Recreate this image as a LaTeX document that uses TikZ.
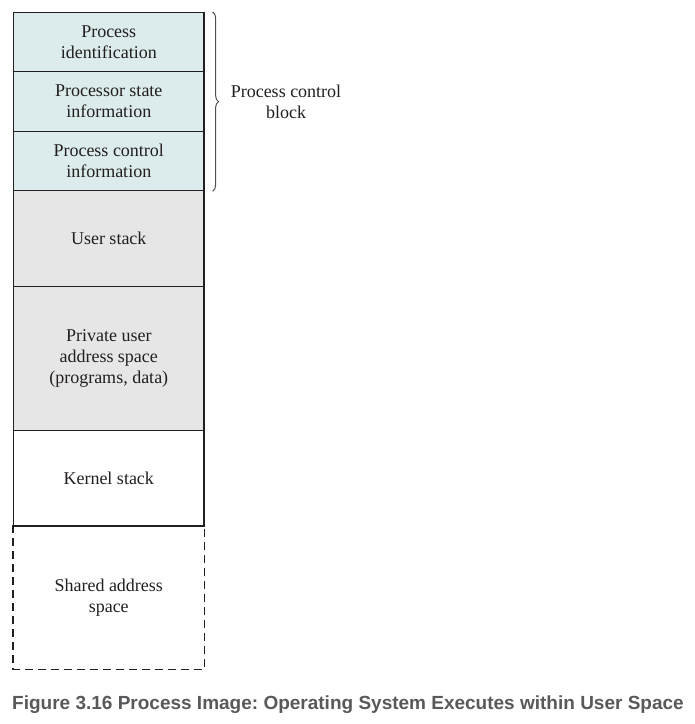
\documentclass[tikz,border=0pt]{standalone}
\usepackage{fontspec}
\setmainfont{Liberation Serif}
\newfontfamily\capfont{Liberation Sans}
\usetikzlibrary{decorations.pathreplacing}
\definecolor{pcbfill}{HTML}{DCEBEB}
\definecolor{userfill}{HTML}{E6E6E6}
\definecolor{inkc}{HTML}{231F20}
\definecolor{capc}{HTML}{58595B}
\frenchspacing
\tikzset{
  seg/.style={draw=inkc, line width=1.2pt, minimum width=190.5pt, anchor=north,
    align=center, inner sep=0pt, font=\fontsize{18}{21}\selectfont, text=inkc},
}
\begin{document}
\begin{tikzpicture}[x=1pt,y=-1pt]
\useasboundingbox (0,0) rectangle (695,724);
\node[seg, fill=pcbfill, minimum height=59pt] (pid) at (108.75,12) {Process\\identification};
\node[seg, fill=pcbfill, minimum height=60pt] (pst) at (108.75,71) {Processor state\\information};
\node[seg, fill=pcbfill, minimum height=59pt] (pci) at (108.75,131) {Process control\\information};
\node[seg, fill=userfill, minimum height=96pt] (ust) at (108.75,190) {User stack};
\node[seg, fill=userfill, minimum height=144pt] (pua) at (108.75,286) {Private user\\address space\\(programs, data)};
\node[seg, fill=white, minimum height=95pt] (kst) at (108.75,430) {Kernel stack};
\node[seg, draw=none, minimum height=143pt] (sas) at (108.75,525) {};
\node[font=\fontsize{18}{21}\selectfont, text=inkc, align=center] (sast) at (108.75,598) {Shared address\\space};
\draw[inkc, line width=1.2pt, dash pattern=on 8pt off 5pt] (sas.north west) -- (sas.south west) -- (sas.south east) -- (sas.north east);
\draw[inkc, line width=1.2pt] (kst.south west) -- (kst.south east);
\draw[inkc!80, line width=1pt, decorate, decoration={brace, amplitude=6pt}]
  ([xshift=8pt]pid.north east) -- ([xshift=8pt]pci.south east) coordinate[midway] (bm);
\node[font=\fontsize{18}{21}\selectfont, text=inkc, align=center] (pcb) at (286,101.5) {Process control\\block};
\node[font=\capfont\bfseries\fontsize{19}{22}\selectfont, text=capc] (cap) at (348,705) {Figure 3.16 Process Image: Operating System Executes within User Space};
\end{tikzpicture}
\end{document}
